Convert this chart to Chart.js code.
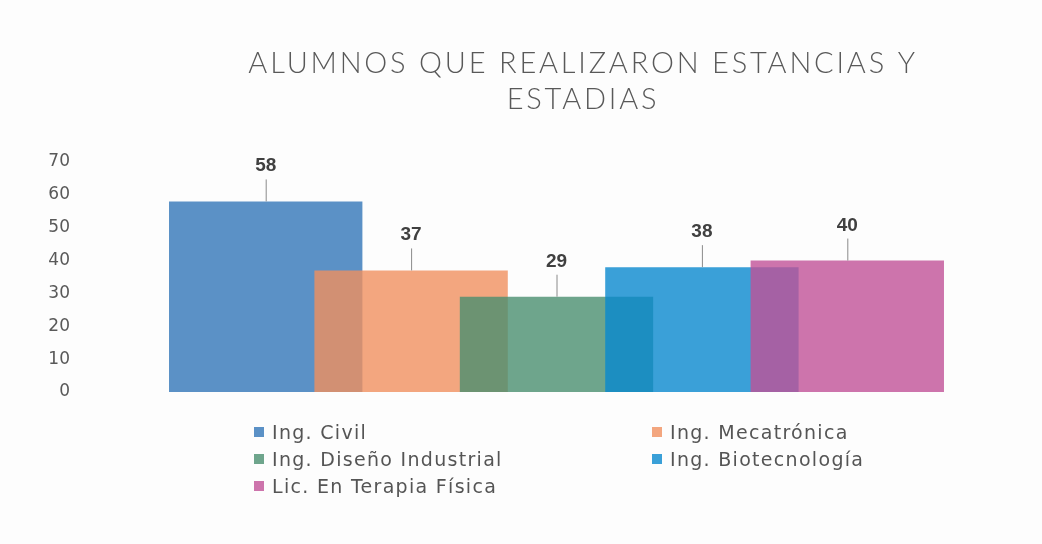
<!DOCTYPE html>
<html>
<head>
<meta charset="utf-8">
<script src="https://cdn.jsdelivr.net/npm/chart.js@4/dist/chart.umd.min.js"></script>
<style>
  html, body { margin: 0; padding: 0; background: #fdfdfd; }
  #wrap { position: relative; width: 1042px; height: 544px; }
  #legend {
    position: absolute; left: 254px; top: 421px;
    display: grid; grid-template-columns: 398px 260px; row-gap: 5px;
    font-family: "DejaVu Sans", sans-serif; font-size: 19px; letter-spacing: 1.3px; color: #555;
  }
  #legend div { display: flex; align-items: center; height: 22px; white-space: nowrap; }
  #legend span.box { width: 10px; height: 10px; margin-right: 8px; display: inline-block; }
</style>
</head>
<body>
<div id="wrap">
  <canvas id="chart" width="1042" height="544"></canvas>
  <div id="legend"></div>
</div>
<script>
// Chart data
const titleLines = ["ALUMNOS QUE REALIZARON ESTANCIAS Y", "ESTADIAS"];
const programs = [
  "Ing. Civil", "Ing. Mecatrónica", "Ing. Diseño Industrial",
  "Ing. Biotecnología", "Lic. En Terapia Física"
];
const alumnos = [58, 37, 29, 38, 40];
const yTicks = [0, 10, 20, 30, 40, 50, 60, 70];

// fill colours (semi transparent so overlaps show through)
const colors = [
  "rgba(50, 117, 184, 0.8)",
  "rgba(240, 144, 95, 0.8)",
  "rgba(74, 143, 111, 0.8)",
  "rgba(9, 136, 206, 0.8)",
  "rgba(192, 81, 151, 0.8)"
];

// one dataset per program, value only at its own slot
const datasets = programs.map((name, i) => ({
  label: name,
  data: programs.map((_, j) => (j === i ? alumnos[i] : null)),
  backgroundColor: colors[i],
  order: programs.length - i, // later programs drawn on top
  clip: false
}));

// value labels with leader lines
const valueLabels = {
  id: "valueLabels",
  afterDatasetsDraw(chart) {
    const ctx = chart.ctx;
    ctx.save();
    chart.data.datasets.forEach((ds, i) => {
      const meta = chart.getDatasetMeta(i);
      meta.data.forEach((bar, j) => {
        if (ds.data[j] == null) return;
        ctx.strokeStyle = "#8a8a8a";
        ctx.lineWidth = 1;
        ctx.beginPath();
        ctx.moveTo(bar.x + 0.5, bar.y - 22);
        ctx.lineTo(bar.x + 0.5, bar.y);
        ctx.stroke();
        ctx.fillStyle = "#404040";
        ctx.font = "bold 19px 'Liberation Sans', Arial, sans-serif";
        ctx.textAlign = "center";
        ctx.textBaseline = "alphabetic";
        ctx.fillText(String(ds.data[j]), bar.x, bar.y - 30);
      });
    });
    ctx.restore();
  }
};

// two line title, centred a bit right of the canvas middle
const titleDraw = {
  id: "titleDraw",
  afterDraw(chart) {
    const ctx = chart.ctx;
    ctx.save();
    ctx.fillStyle = "#595959";
    ctx.font = "300 29px Lato, 'DejaVu Sans', sans-serif";
    ctx.letterSpacing = "2.8px";
    ctx.textAlign = "center";
    titleLines.forEach((line, k) => {
      ctx.fillText(line, 583, 73 + k * 36);
    });
    ctx.restore();
  }
};

new Chart(document.getElementById("chart"), {
  type: "bar",
  data: { labels: programs, datasets: datasets },
  options: {
    responsive: false,
    animation: false,
    grouped: false,
    categoryPercentage: 1,
    barPercentage: 1.33,
    layout: { padding: { top: 162, bottom: 152, left: 0, right: 122 } },
    plugins: {
      legend: { display: false },
      tooltip: { enabled: false }
    },
    scales: {
      x: { display: false },
      y: {
        min: 0, max: 70,
        afterBuildTicks: (axis) => { axis.ticks = yTicks.map(v => ({ value: v })); },
        afterFit: (axis) => { axis.width = 193; },
        grid: { display: false },
        border: { display: false },
        ticks: {
          padding: 115,
          color: "#595959",
          font: { family: "'DejaVu Sans', sans-serif", size: 17 }
        }
      }
    }
  },
  plugins: [valueLabels, titleDraw]
});

// html legend in two columns
const legend = document.getElementById("legend");
programs.forEach((name, i) => {
  const item = document.createElement("div");
  const box = document.createElement("span");
  box.className = "box";
  box.style.background = colors[i];
  item.appendChild(box);
  item.appendChild(document.createTextNode(name));
  legend.appendChild(item);
});
</script>
</body>
</html>
